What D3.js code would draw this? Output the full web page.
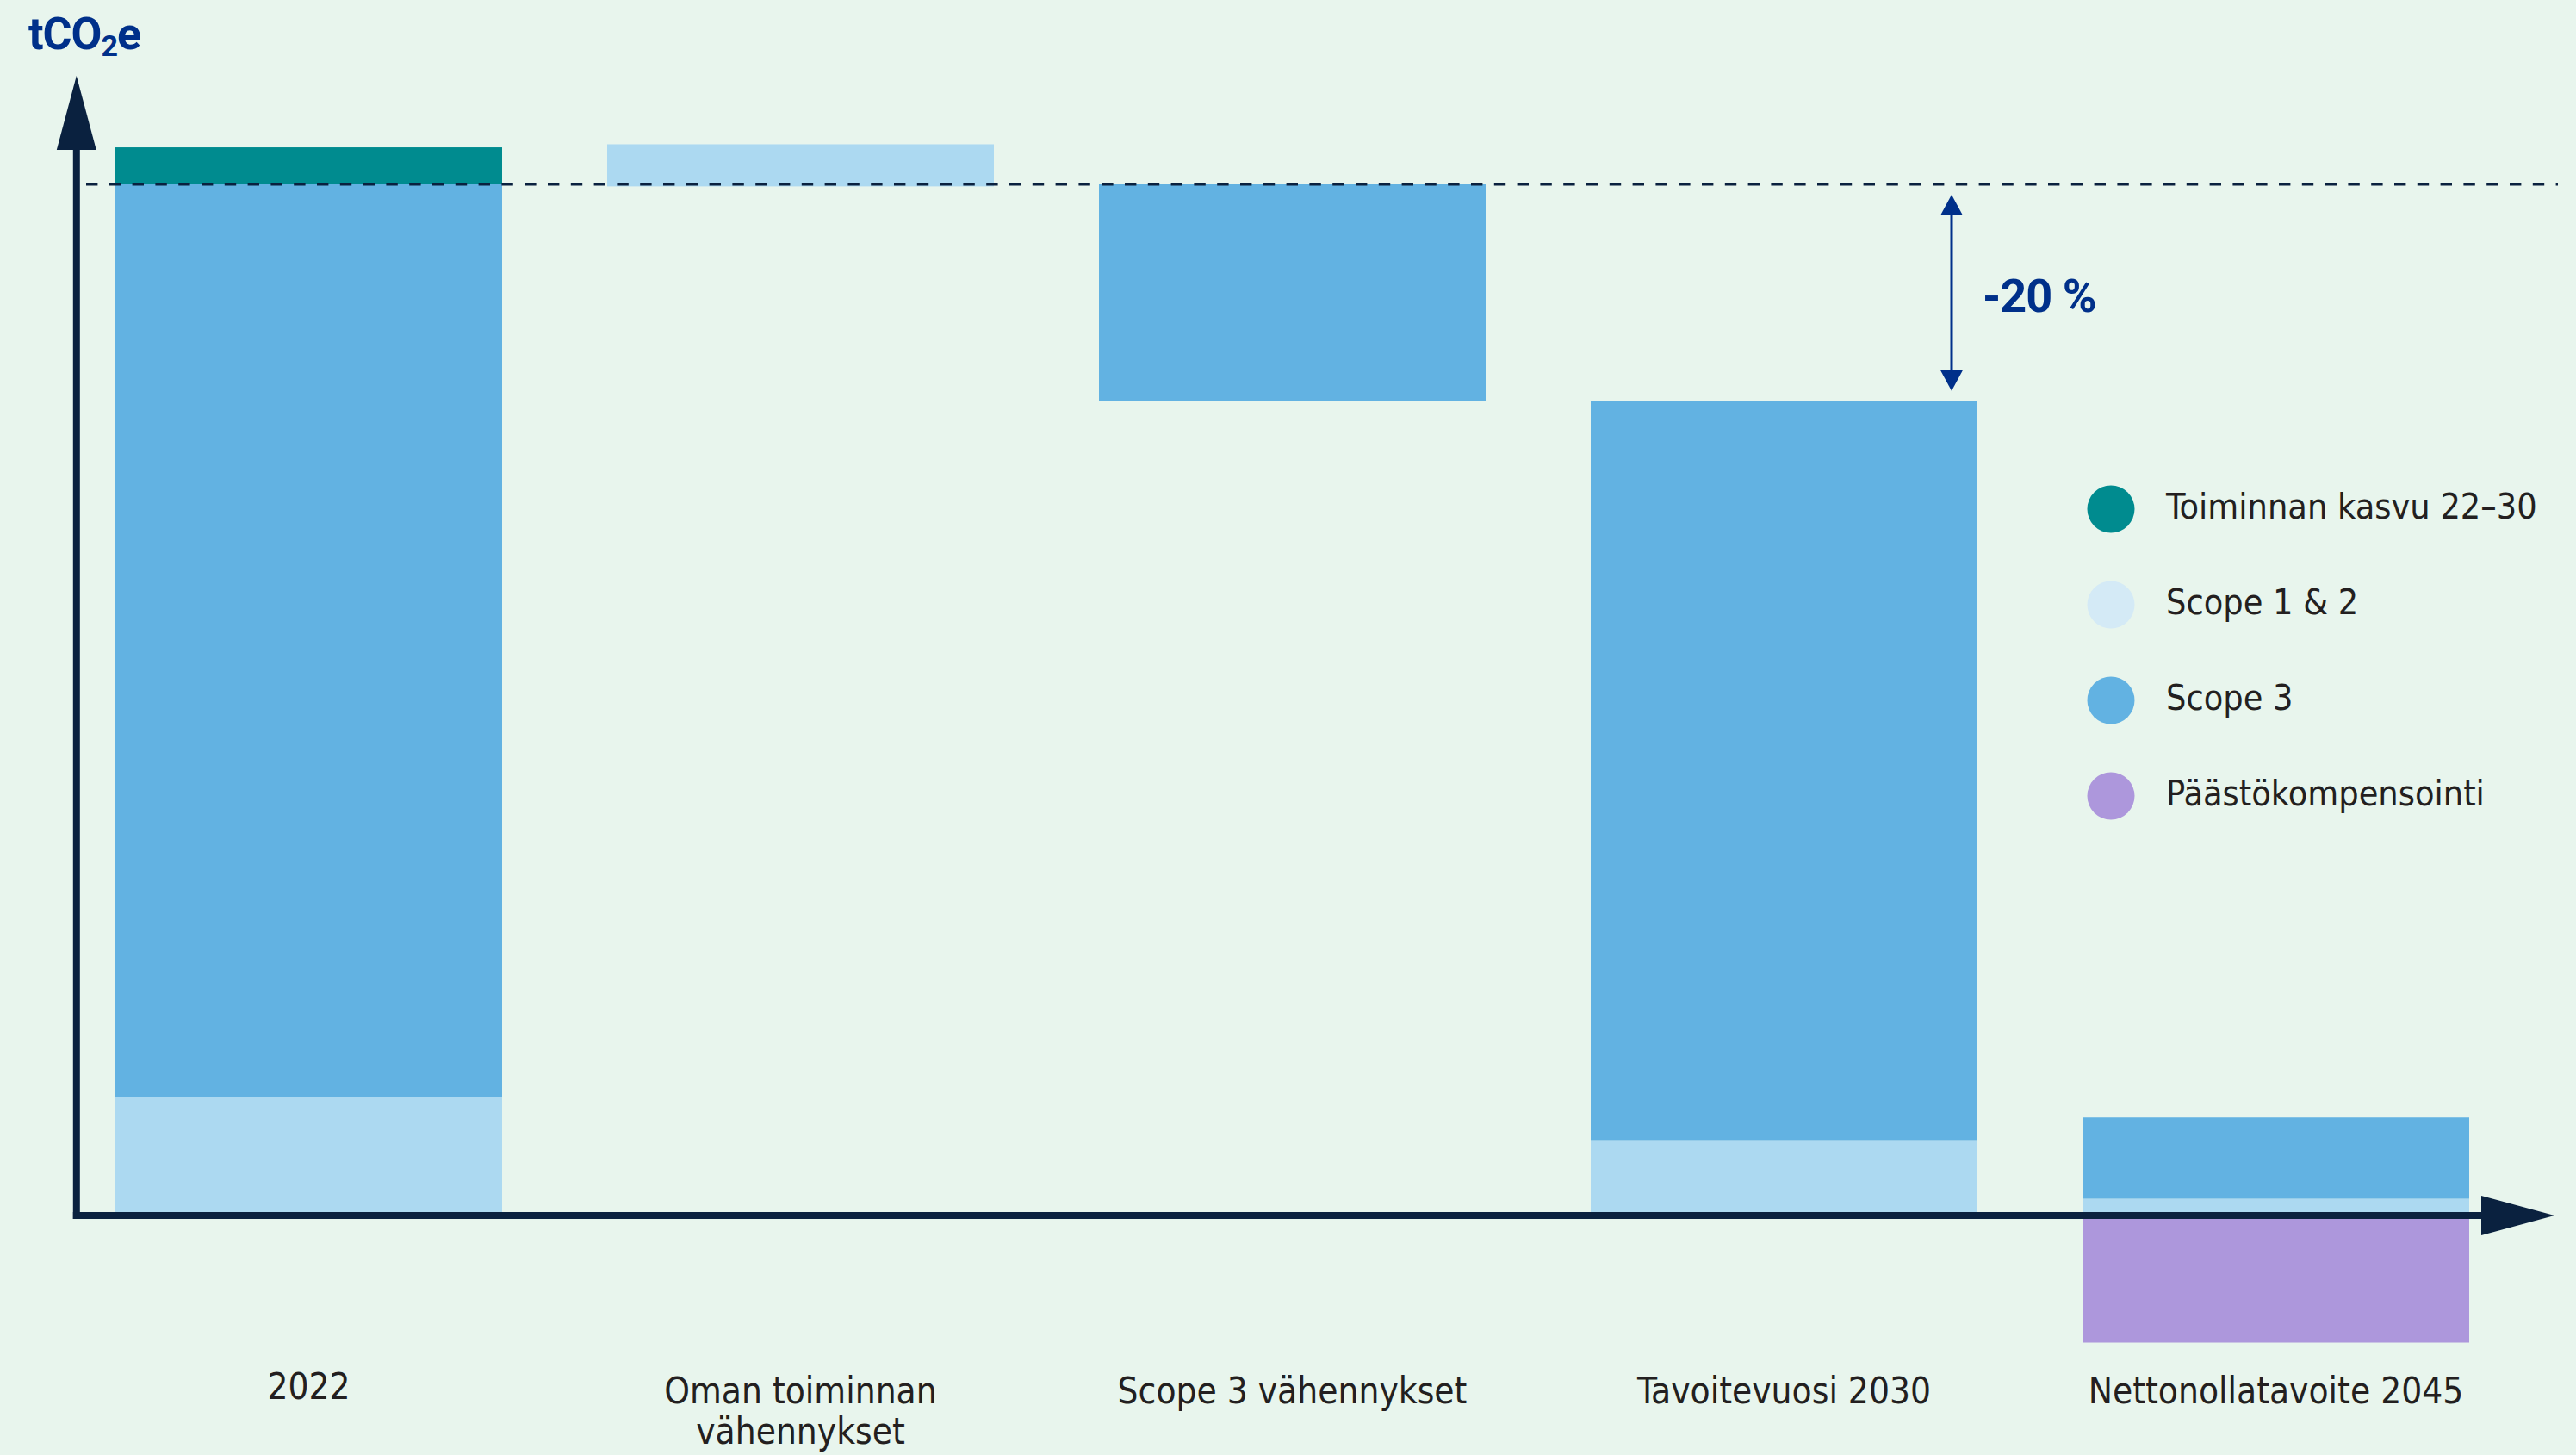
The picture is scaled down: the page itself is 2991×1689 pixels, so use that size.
<!DOCTYPE html>
<html lang="fi">
<head>
<meta charset="UTF-8">
<title>Päästöjen vähennyspolku</title>
<style>
  body { margin: 0; background: #e8f5ed; }
  svg { display: block; }
  .lbl { font-family: "Liberation Sans Narrow", "DejaVu Sans Condensed", Roboto, sans-serif; fill: #231f20; }
</style>
</head>
<body>
<svg width="2991" height="1689"></svg>
<script src="https://cdn.jsdelivr.net/npm/d3@7"></script>
<script>
// categories on the x axis (label lines split with |)
const categories = ["2022", "Oman toiminnan|vähennykset", "Scope 3 vähennykset", "Tavoitevuosi 2030", "Nettonollatavoite 2045"];
const seriesNames = ["Toiminnan kasvu 22–30", "Scope 1 & 2", "Scope 3", "Päästökompensointi"];

// floating segments [from, to] per category, index 2022 base = 100
const growth  = [[100, 103.6], null, null, null, null];
const scope12 = [[0, 11.2], [99.8, 103.9], null, [0, 7.0], [0, 1.3]];
const scope3  = [[11.2, 100], null, [78.9, 100], [7.0, 78.9], [1.3, 9.2]];
const offsets = [null, null, null, null, [-12.7, 0]];

const baseLevel = 100;   // dashed reference line
const target = 78.9;     // 2030 level
const changeLabel = "-20 %";

const barColors = ["#008b8f", "#acd9f1", "#62b2e2", "#ad97dc"];
const legendColors = ["#008b8f", "#d4eaf6", "#62b2e2", "#ad97dc"];
const axisColor = "#0a213f";
const navy = "#00308a";

let svg = d3.select("svg");

let step = 571, barW = 449;
let x = d3.scaleBand()
    .domain(categories)
    .range([134, 134 + 4 * step + barW])
    .paddingInner((step - barW) / step)
    .paddingOuter(0);

let y = d3.scaleLinear().domain([0, 100]).range([1407, 214]);

// bars
let allSeries = [growth, scope12, scope3, offsets];
allSeries.forEach(function(arr, s) {
    arr.forEach(function(seg, i) {
        if (!seg) return;
        svg.append("rect")
            .attr("x", x(categories[i]))
            .attr("width", x.bandwidth())
            .attr("y", y(Math.max(seg[0], seg[1])))
            .attr("height", Math.abs(y(seg[0]) - y(seg[1])))
            .attr("fill", barColors[s]);
    });
});

// dashed reference line
svg.append("line")
    .attr("x1", 100).attr("x2", 2970)
    .attr("y1", y(baseLevel)).attr("y2", y(baseLevel))
    .attr("stroke", axisColor)
    .attr("stroke-width", 2.8)
    .attr("stroke-dasharray", "13.4,13.4");

// axes with arrow heads
let x0 = 88.8, yAxis = y(0) + 4;
svg.append("line")
    .attr("x1", x0).attr("x2", x0)
    .attr("y1", 170).attr("y2", yAxis + 4)
    .attr("stroke", axisColor).attr("stroke-width", 8);
svg.append("line")
    .attr("x1", x0 - 4).attr("x2", 2885)
    .attr("y1", yAxis).attr("y2", yAxis)
    .attr("stroke", axisColor).attr("stroke-width", 8);
svg.append("path")
    .attr("d", "M" + x0 + ",88 L" + (x0 + 23) + ",174 L" + (x0 - 23) + ",174 Z")
    .attr("fill", axisColor);
svg.append("path")
    .attr("d", "M2966," + yAxis + " L2881," + (yAxis - 23) + " L2881," + (yAxis + 23) + " Z")
    .attr("fill", axisColor);

// y axis unit title
let title = svg.append("text")
    .attr("x", 33).attr("y", 57)
    .attr("font-family", "Roboto, sans-serif")
    .attr("font-weight", 700)
    .attr("font-size", 52)
    .attr("fill", navy)
    .attr("letter-spacing", -1);
title.append("tspan").text("tCO");
title.append("tspan").attr("font-size", 34).attr("dy", 8).text("2");
title.append("tspan").attr("dy", -8).text("e");

// -20 % annotation
let ax = 2266;
svg.append("line")
    .attr("x1", ax).attr("x2", ax)
    .attr("y1", y(baseLevel) + 30).attr("y2", y(target) - 30)
    .attr("stroke", navy).attr("stroke-width", 3);
svg.append("path")
    .attr("d", "M" + ax + "," + (y(baseLevel) + 12) + " l13,24 l-26,0 Z")
    .attr("fill", navy);
svg.append("path")
    .attr("d", "M" + ax + "," + (y(target) - 12) + " l13,-24 l-26,0 Z")
    .attr("fill", navy);
svg.append("text")
    .attr("x", 2302).attr("y", 362)
    .attr("font-family", "Roboto, sans-serif")
    .attr("font-weight", 700)
    .attr("font-size", 54)
    .attr("fill", navy)
    .attr("letter-spacing", -1)
    .text(changeLabel);

// category labels
categories.forEach(function(c, i) {
    let t = svg.append("text")
        .attr("class", "lbl")
        .attr("x", x(c) + x.bandwidth() / 2)
        .attr("y", i === 0 ? 1624 : 1629)
        .attr("text-anchor", "middle")
        .attr("font-size", 42);
    c.split("|").forEach(function(line, k) {
        t.append("tspan")
            .attr("x", x(c) + x.bandwidth() / 2)
            .attr("dy", k === 0 ? 0 : 47)
            .text(line);
    });
});

// legend
seriesNames.forEach(function(name, i) {
    let cy = 591 + i * 111;
    svg.append("circle")
        .attr("cx", 2451).attr("cy", cy).attr("r", 27.5)
        .attr("fill", legendColors[i]);
    svg.append("text")
        .attr("class", "lbl")
        .attr("x", 2515).attr("y", cy + 11)
        .attr("font-size", 41)
        .text(name);
});
</script>
</body>
</html>
